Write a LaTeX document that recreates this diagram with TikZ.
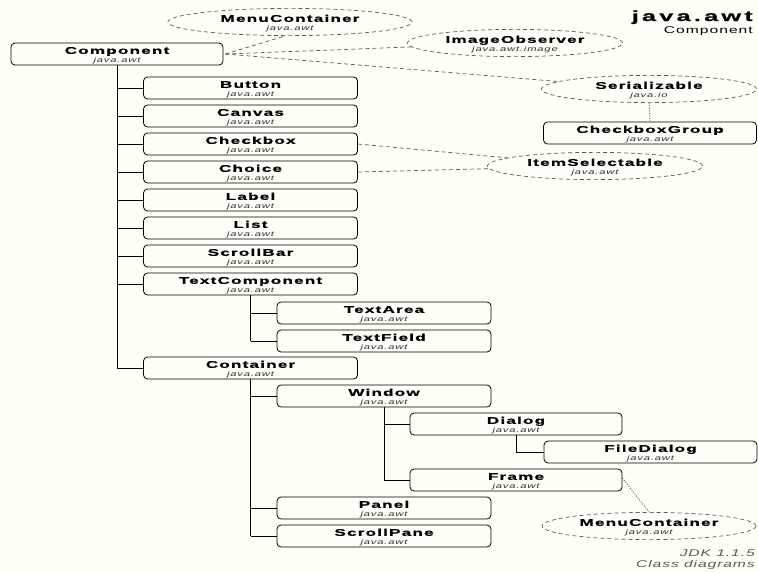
\documentclass[tikz,border=0pt]{standalone}
\usepackage{fontspec}
\setmainfont{Liberation Sans}
\newfontfamily\clsnamefont{Liberation Sans}[FakeStretch=1.75,LetterSpace=12,BoldFeatures={FakeBold=0.6}]
\newfontfamily\clspkgfont{Liberation Sans}[FakeStretch=1.6,LetterSpace=12]
\newfontfamily\ttlfont{Liberation Sans}[FakeStretch=1.75,LetterSpace=22,BoldFeatures={FakeBold=0.6}]
\newfontfamily\subfont{Liberation Sans}[FakeStretch=1.6,LetterSpace=10]
\newfontfamily\notefont{Liberation Sans}[FakeStretch=1.6,LetterSpace=9]
\usetikzlibrary{shapes.geometric}
\definecolor{bg}{RGB}{255,255,248}
\definecolor{dashgray}{RGB}{90,90,90}
\definecolor{pkgcol}{RGB}{50,50,50}
\definecolor{notecol}{RGB}{90,90,90}
\newcommand\nodefnt{\fontsize{9.8}{8.3}\selectfont\lineskiplimit=-5pt\relax}
\newcommand\clsname[1]{{\clsnamefont\bfseries\fontsize{9.8}{8.3}\selectfont\rule{0pt}{9.5pt}#1}}
\newcommand\clspkg[1]{{\clspkgfont\itshape\fontsize{7}{8.3}\selectfont\color{pkgcol}#1}}
\newcommand\clstwo[2]{\clsname{#1}\\\clspkg{#2}}
\tikzset{
  cls/.style={draw=black, line width=0.8pt, rounded corners=4pt, fill=bg,
    minimum width=214pt, minimum height=22pt, inner sep=0pt, align=center,
    font=\nodefnt},
  iface/.style={ellipse, draw=dashgray, dash pattern=on 4pt off 3pt, line width=0.7pt,
    minimum width=215pt, minimum height=22pt, inner sep=0pt, align=center,
    font=\nodefnt},
  tree/.style={line width=0.8pt, draw=black},
  dep/.style={draw=dashgray, dash pattern=on 4pt off 3pt, line width=0.7pt},
  dotdep/.style={draw=dashgray, dash pattern=on 1pt off 1.5pt, line width=0.9pt},
}
\begin{document}
\begin{tikzpicture}[x=1pt,y=-1pt]
\fill[bg] (0,0) rectangle (758,573);
\useasboundingbox (0,0) rectangle (758,573);

% title
\node[anchor=base east, inner sep=0pt, font=\ttlfont\bfseries\fontsize{14.5}{15}\selectfont] (title) at (753,21) {java.awt};
\node[anchor=base east, inner sep=0pt, font=\subfont\fontsize{9.8}{10}\selectfont] (subtitle) at (753,33) {Component};
\node[anchor=base east, inner sep=0pt, text=notecol, font=\notefont\itshape\fontsize{9.8}{10}\selectfont] (jdk) at (755,556) {JDK 1.1.5};
\node[anchor=base east, inner sep=0pt, text=notecol, font=\notefont\itshape\fontsize{9.8}{10}\selectfont] (cd) at (755,567) {Class diagrams};

% interfaces
\node[iface, minimum width=244pt] (mc1) at (290,22) {\clstwo{MenuContainer}{java.awt}};
\node[iface] (io) at (515,43) {\clstwo{ImageObserver}{java.awt.image}};
\node[iface] (ser) at (649,89) {\clstwo{Serializable}{java.io}};
\node[iface] (is) at (595,166) {\clstwo{ItemSelectable}{java.awt}};
\node[iface, minimum width=214pt] (mc2) at (649,526) {\clstwo{MenuContainer}{java.awt}};

% classes
\node[cls, minimum width=212pt] (component) at (117,54) {\clstwo{Component}{java.awt}};
\node[cls, minimum width=213pt] (cbg) at (650,133) {\clstwo{CheckboxGroup}{java.awt}};

\node[cls] (button)   at (250.5,88)  {\clstwo{Button}{java.awt}};
\node[cls] (canvas)   at (250.5,116) {\clstwo{Canvas}{java.awt}};
\node[cls] (checkbox) at (250.5,144) {\clstwo{Checkbox}{java.awt}};
\node[cls] (choice)   at (250.5,172) {\clstwo{Choice}{java.awt}};
\node[cls] (label)    at (250.5,200) {\clstwo{Label}{java.awt}};
\node[cls] (list)     at (250.5,228) {\clstwo{List}{java.awt}};
\node[cls] (scrollbar) at (250.5,256) {\clstwo{ScrollBar}{java.awt}};
\node[cls] (textcomp) at (250.5,284) {\clstwo{TextComponent}{java.awt}};
\node[cls] (textarea) at (384,313) {\clstwo{TextArea}{java.awt}};
\node[cls] (textfield) at (384,341) {\clstwo{TextField}{java.awt}};
\node[cls] (container) at (250.5,368) {\clstwo{Container}{java.awt}};
\node[cls] (window)   at (384,396) {\clstwo{Window}{java.awt}};
\node[cls, minimum width=212pt] (dialog) at (516,424) {\clstwo{Dialog}{java.awt}};
\node[cls, minimum width=213pt] (filedialog) at (650.5,452) {\clstwo{FileDialog}{java.awt}};
\node[cls, minimum width=212pt] (frame) at (516,480) {\clstwo{Frame}{java.awt}};
\node[cls] (panel)    at (384,508) {\clstwo{Panel}{java.awt}};
\node[cls] (scrollpane) at (384,536) {\clstwo{ScrollPane}{java.awt}};

% inheritance tree
\draw[tree] (component.south) -- (component.south |- container.west);
\foreach \n in {button,canvas,checkbox,choice,label,list,scrollbar,textcomp,container}
  \draw[tree] (component.south |- \n.west) -- (\n.west);
\draw[tree] (textcomp.south) -- (textcomp.south |- textfield.west);
\foreach \n in {textarea,textfield}
  \draw[tree] (textcomp.south |- \n.west) -- (\n.west);
\draw[tree] (container.south) -- (container.south |- scrollpane.west);
\foreach \n in {window,panel,scrollpane}
  \draw[tree] (container.south |- \n.west) -- (\n.west);
\draw[tree] (window.south) -- (window.south |- frame.west);
\foreach \n in {dialog,frame}
  \draw[tree] (window.south |- \n.west) -- (\n.west);
\draw[tree] (dialog.south) -- (dialog.south |- filedialog.west) -- (filedialog.west);

% dependencies
\coordinate (compR) at ([xshift=2pt]component.east);
\draw[dep] (compR) -- (mc1.250);
\draw[dep] (compR) -- (io);
\draw[dep] (compR) -- (ser);
\draw[dep] (checkbox.east) -- (is);
\draw[dep] (choice.east) -- (is);
\draw[dotdep] (ser.south) -- (cbg.north);
\draw[dotdep] ([yshift=2pt]frame.east) -- (mc2.north);
\end{tikzpicture}
\end{document}
